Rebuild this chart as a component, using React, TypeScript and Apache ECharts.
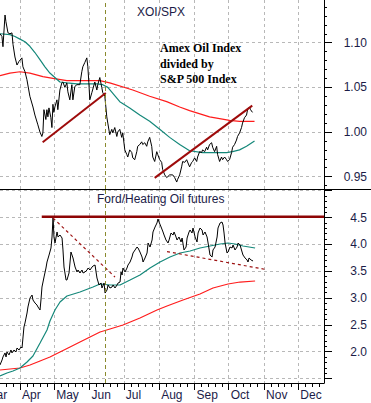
import React, { useEffect, useRef } from "react";
import * as echarts from "echarts";

const DAY_MS = 86400000;
const YEAR = 2009;
const START = new Date(YEAR, 2, 14, 12).getTime(); // left edge of the plot
const SPAN_DAYS = 284; // right edge (price axis)

const MONTH_NAMES = ["Jan", "Feb", "Mar", "Apr", "May", "Jun", "Jul", "Aug", "Sep", "Oct", "Nov", "Dec"];
const LABEL_MONTHS = [3, 4, 5, 6, 7, 8, 9, 10, 11]; // Apr..Dec
const PARTIAL_MONTH = 2; // Mar, cut by the left edge

// ---- XOI / SPX (days after the left edge, ratio) ----
const xoiDay = [0,1.7,2.6,4.4,5.2,7,8.7,10.5,11.4,13.1,14.9,16.6,19.2,20.1,21.9,23.6,26.2,28.9,30.6,33.2,35,36.7,37.6,38.5,40.2,41.1,42,42.9,44.6,45.5,46.4,47.2,48.1,49.9,50.7,52.5,54.2,55.1,56.9,58.6,59.5,61.2,63,63.9,65.6,67.4,70,71.7,72.6,74.4,76.1,77,77.9,78.7,80.5,83.1,84.9,85.7,87.5,89.2,90.1,91.9,93.6,94.5,96.2,98,98.9,100.6,102.4,103.2,105,106.7,107.6,109.4,111.1,112,113.7,115.5,116.4,118.1,119.9,120.7,122.5,124.2,125.1,126.9,128.6,129.5,131.2,133,133.9,135.6,137.4,138.2,140,141.7,142.6,144.4,146.1,147,148.7,151.4,153.1,154.9,155.7,157.5,159.2,160.1,161.9,163.6,166.2,168,168.9,170.6,172.4,173.2,175,176.7,177.6,179.4,181.1,182,183.7,185.5,186.4,188.1,189.9,190.7,192.5,194.2,195.1,196.9,198.6,199.5,201.2,203,203.9,205.6,207.3,208.2,210,211.7,212.6,214.3,216.1,217,218.7,219.6,221.3];
const xoiRatio = [1.110,1.107,1.0955,1.131,1.1235,1.111,1.110,1.111,1.098,1.084,1.075,1.079,1.083,1.073,1.0675,1.0586,1.040,1.028,1.019,1.008,1.000,0.995,0.999,1.025,1.014,1.025,1.017,1.027,1.016,1.005,1.031,1.022,1.028,1.036,1.025,1.047,1.055,1.056,1.050,1.055,1.045,1.036,1.053,1.036,1.051,1.053,1.053,1.0675,1.073,1.078,1.083,1.073,1.055,1.036,1.044,1.056,1.047,1.053,1.061,1.050,1.044,1.040,1.017,1.010,0.997,1.003,0.999,1.005,0.995,1.000,1.003,0.994,0.999,0.980,0.975,0.972,0.980,0.977,0.971,0.969,0.978,0.984,0.986,0.989,0.986,0.988,0.984,0.989,0.994,0.984,0.972,0.967,0.978,0.975,0.969,0.966,0.958,0.952,0.949,0.950,0.952,0.952,0.949,0.944,0.947,0.952,0.961,0.967,0.966,0.969,0.961,0.966,0.967,0.971,0.967,0.972,0.978,0.977,0.980,0.978,0.983,0.980,0.986,0.988,0.983,0.978,0.984,0.975,0.967,0.972,0.969,0.972,0.969,0.967,0.969,0.977,0.983,0.986,0.991,0.995,0.999,1.005,1.010,1.016,1.019,1.025,1.028,1.025,1.022];
const xoiMa50Day = [0,8.7,13.1,17.5,21.9,26.2,30.6,35,39.4,43.7,48.1,52.5,58.6,67.4,76.1,84.9,90.1,94.5,105,113.7,122.5,131.2,140,148.7,157.5,166.2,177.6,189.9,198.6,203.9,210,216.1,223.1];
const xoiMa50 = [1.110,1.109,1.107,1.104,1.101,1.096,1.089,1.081,1.073,1.066,1.061,1.056,1.055,1.054,1.054,1.054,1.053,1.050,1.034,1.027,1.019,1.012,1.003,0.994,0.986,0.979,0.977,0.977,0.977,0.978,0.980,0.984,0.990];
const xoiMa200Day = [0,8.7,17.5,26.2,37.6,46.4,58.6,72.6,87.5,96.2,116.4,131.2,146.1,157.5,166.2,183.7,201.2,210,223.1];
const xoiMa200 = [1.063,1.066,1.0675,1.066,1.062,1.060,1.0575,1.0575,1.0575,1.055,1.047,1.040,1.034,1.028,1.024,1.017,1.013,1.012,1.012];
const xoiTrend1Day = [37.4, 92.7];
const xoiTrend1 = [0.9885, 1.0436];
const xoiTrend2Day = [135.6, 221.1];
const xoiTrend2 = [0.9486, 1.0295];

// ---- Ford / Heating Oil futures ----
const fordDay = [0,1.8,2.6,4.4,5.3,6.1,7.9,9.6,10.5,12.3,14,14.9,16.7,18.4,19.3,20.2,21,21.9,23.7,24.5,26.3,28.1,28.9,30.7,32.4,33.3,35.1,35.9,36.8,38.6,40.3,41.2,43,44.7,45.6,46.5,47.3,48.2,50,50.9,52.6,54.4,55.2,56.1,57.9,58.7,60.5,61.4,62.2,63.1,64,65.8,67.5,68.4,70.1,71.9,72.8,74.5,76.3,77.2,78.9,80.7,81.5,83.3,84.2,85,86.8,88.6,89.4,91.2,92.1,93.8,94.7,96.4,98.2,99.1,100.8,102.6,103.5,105.2,106.1,107,107.8,109.6,111.3,112.2,114,115.7,116.6,118.4,120.1,121,122.7,124.5,125.4,127.1,128.9,129.8,131.5,133.3,134.1,135.9,137.6,138.5,139.4,141.2,142.9,143.8,145.5,147.3,148.2,149.9,151.7,152.6,154.3,155.2,156.9,158.7,159.6,161.3,163.1,164,165.7,166.6,168.3,169.2,171,172.7,173.6,175.3,177.1,178,179.7,181.5,182.4,184.1,185.9,186.7,188.5,190.3,191.1,192.9,194.6,195.5,196.4,197.3,199,199.9,201.6,203.4,204.3,206,207.8,208.7,210.4,212.2,213,214.8,216.6,217.4,218.3,220.1,221.8];
const fordRatio = [1.753,1.846,1.902,1.977,1.902,1.995,1.940,2.032,1.977,2.032,1.995,2.069,2.032,2.088,2.069,2.274,2.460,2.535,2.721,2.833,3.000,3.056,2.963,2.907,2.870,2.833,2.777,2.963,3.205,3.392,3.559,3.671,3.801,3.932,4.137,4.509,4.137,4.025,4.230,4.137,4.174,4.118,3.895,3.578,3.336,3.336,3.466,3.671,3.857,3.801,3.746,3.578,3.485,3.522,3.466,3.522,3.466,3.485,3.522,3.559,3.522,3.578,3.596,3.615,3.485,3.373,3.243,3.280,3.187,3.280,3.093,3.149,3.243,3.187,3.205,3.243,3.187,3.243,3.280,3.298,3.485,3.429,3.559,3.485,3.559,3.615,3.671,3.764,3.839,3.895,3.950,3.932,3.857,3.764,3.671,3.746,3.839,4.025,3.950,4.081,4.230,4.323,4.398,4.472,4.416,4.323,4.230,4.174,4.081,4.025,4.081,4.211,4.174,4.230,4.137,4.081,4.137,4.044,4.118,3.895,3.950,4.118,4.230,4.267,4.211,4.304,4.137,4.044,4.211,4.304,4.267,4.174,4.230,4.137,4.025,3.801,3.764,3.895,3.950,4.137,4.304,4.398,4.416,4.360,4.211,4.025,3.839,3.857,3.950,3.932,3.988,3.895,3.950,4.025,3.988,3.857,3.801,3.746,3.708,3.671,3.746,3.708,3.690];
const fordMa50Day = [0,6.1,11.4,17.5,23.7,28.9,35.1,41.2,43.8,48.2,52.6,58.7,70.1,81.5,87.7,96.4,105.2,114,122.7,131.5,140.3,149,157.8,166.6,175.3,184.1,192.9,199.9,206,213,223.6];
const fordMa50 = [1.547,1.603,1.640,1.696,1.808,1.920,2.162,2.404,2.572,2.777,2.926,3.038,3.112,3.205,3.261,3.243,3.243,3.336,3.429,3.559,3.671,3.764,3.839,3.876,3.932,3.969,4.006,4.025,4.006,3.969,3.932];
const fordMa200Day = [0,8.8,17.5,26.3,35.1,43.8,52.6,61.4,70.1,78.9,87.7,96.4,107.8,122.7,137.6,146.4,160.4,175.3,186.7,199.9,210.4,223.6];
const fordMa200 = [1.659,1.678,1.696,1.752,1.827,1.901,1.994,2.088,2.181,2.274,2.367,2.423,2.497,2.628,2.777,2.851,2.963,3.075,3.187,3.261,3.298,3.317];
const fordResistDay = [36.6, SPAN_DAYS];
const fordResist = [4.515, 4.515];
const fordFall1Day = [46.5, 100.8];
const fordFall1 = [4.49, 3.39];
const fordFall2Day = [146.4, 233.2];
const fordFall2 = [3.866, 3.531];

const markerDay = 92.1; // olive vertical dashed marker (mid June)

// ---- axes ----
const XOI_MIN = 0.9362;
const XOI_MAX = 1.1478;
const XOI_TICKS = [0.95, 1.0, 1.05, 1.1];
const FORD_MIN = 1.417;
const FORD_MAX = 5.031;
const FORD_TICKS = [1.5, 2.0, 2.5, 3.0, 3.5, 4.0, 4.5, 5.0];
const FORD_LABELS = [2.0, 2.5, 3.0, 3.5, 4.0, 4.5];

const TEXT_COLOR = "#1c1c48";
const GRID_COLOR = "#b8b8b8";
const SANS = "'Liberation Sans', Arial, sans-serif";
const SERIF = "'Liberation Serif', 'Times New Roman', serif";

const monthStartDay = (m: number) => (new Date(YEAR, m, 1).getTime() - START) / DAY_MS;

const pairs = (d: number[], v: number[]) => d.map((x, i) => [x, v[i]]);

export default function App() {
  const ref = useRef<HTMLDivElement>(null);

  useEffect(() => {
    if (!ref.current) return;
    const chart = echarts.init(ref.current, null, { renderer: "svg" });

    const monthTicks = LABEL_MONTHS.map(monthStartDay);
    const minorX: number[] = [];
    for (let m = PARTIAL_MONTH; m <= 11; m++) {
      const a = monthStartDay(m);
      const b = monthStartDay(m + 1);
      for (let k = 1; k < 5; k++) minorX.push(a + ((b - a) * k) / 5);
    }
    const xoiMinor: number[] = [];
    for (let i = 94; i <= 114; i++) if (i % 5 !== 0) xoiMinor.push(i / 100);
    const fordMinor: number[] = [];
    for (let i = 15; i <= 50; i++) if (i % 5 !== 0) fordMinor.push(i / 10);

    const dashed = { color: GRID_COLOR, type: [3, 3] as any, width: 1 };
    const monthLabel = (v: number) => MONTH_NAMES[new Date(START + (v + 0.5) * DAY_MS).getMonth()];

    const baseX = {
      type: "value",
      min: 0,
      max: SPAN_DAYS,
    };

    const markLine = {
      silent: true,
      symbol: ["none", "none"],
      label: { show: false },
      lineStyle: { color: "#8a8a2e", type: [4, 3], width: 1 },
      data: [{ xAxis: markerDay }],
    };

    const line = (name: string, data: number[][], color: string, width: number, xi: number, yi: number, extra: any = {}) => ({
      name,
      type: "line",
      data,
      xAxisIndex: xi,
      yAxisIndex: yi,
      symbol: "none",
      showSymbol: false,
      silent: true,
      lineStyle: { color, width, ...(extra.lineStyle || {}) },
      z: extra.z ?? 2,
      ...(extra.markLine ? { markLine: extra.markLine } : {}),
    });

    const option: any = {
      animation: false,
      backgroundColor: "#ffffff",
      grid: [
        { left: 0, top: 0, width: 324, height: 189, containLabel: false, outerBoundsMode: "none" },
        { left: 0, top: 189, width: 324, height: 194, containLabel: false, outerBoundsMode: "none" },
      ],
      xAxis: [
        {
          ...baseX,
          gridIndex: 0,
          axisLine: { show: false },
          axisTick: { show: false, customValues: monthTicks },
          axisLabel: { show: false },
          splitLine: { show: true, lineStyle: dashed },
        },
        {
          ...baseX,
          gridIndex: 1,
          position: "bottom",
          axisLine: { show: true, onZero: false, lineStyle: { color: "#000", width: 1 } },
          axisTick: { show: true, customValues: monthTicks, length: 7, lineStyle: { color: "#000" } },
          axisLabel: {
            show: true,
            customValues: monthTicks,
            formatter: monthLabel,
            align: "left",
            padding: [0, 0, 0, 2],
            margin: 6,
            color: TEXT_COLOR,
            fontFamily: SANS,
            fontSize: 12,
          },
          splitLine: { show: true, lineStyle: dashed },
        },
        {
          ...baseX,
          gridIndex: 1,
          position: "bottom",
          axisLine: { show: false, onZero: false },
          axisTick: { show: true, customValues: minorX, length: 4, lineStyle: { color: "#000" } },
          axisLabel: { show: false },
          splitLine: { show: false },
        },
      ],
      yAxis: [
        {
          type: "value",
          gridIndex: 0,
          position: "right",
          min: XOI_MIN,
          max: XOI_MAX,
          axisLine: { show: true, onZero: false, lineStyle: { color: "#000", width: 1 } },
          axisTick: { show: true, customValues: XOI_TICKS, length: 8, lineStyle: { color: "#000" } },
          axisLabel: {
            show: true,
            customValues: XOI_TICKS,
            formatter: (v: number) => v.toFixed(2),
            align: "right",
            margin: 43,
            color: TEXT_COLOR,
            fontFamily: SANS,
            fontSize: 12,
          },
          splitLine: { show: true, lineStyle: dashed },
        },
        {
          type: "value",
          gridIndex: 0,
          position: "right",
          min: XOI_MIN,
          max: XOI_MAX,
          axisLine: { show: false, onZero: false },
          axisTick: { show: true, customValues: xoiMinor, length: 3, lineStyle: { color: "#000" } },
          axisLabel: { show: false },
          splitLine: { show: false },
        },
        {
          type: "value",
          gridIndex: 1,
          position: "right",
          min: FORD_MIN,
          max: FORD_MAX,
          axisLine: { show: true, onZero: false, lineStyle: { color: "#000", width: 1 } },
          axisTick: { show: true, customValues: FORD_TICKS, length: 8, lineStyle: { color: "#000" } },
          axisLabel: {
            show: true,
            customValues: FORD_LABELS,
            formatter: (v: number) => v.toFixed(1),
            align: "right",
            margin: 43,
            color: TEXT_COLOR,
            fontFamily: SANS,
            fontSize: 12,
          },
          splitLine: { show: true, lineStyle: dashed },
        },
        {
          type: "value",
          gridIndex: 1,
          position: "right",
          min: FORD_MIN,
          max: FORD_MAX,
          axisLine: { show: false, onZero: false },
          axisTick: { show: true, customValues: fordMinor, length: 3, lineStyle: { color: "#000" } },
          axisLabel: { show: false },
          splitLine: { show: false },
        },
      ],
      series: [
        line("XOI/SPX 200d", pairs(xoiMa200Day, xoiMa200), "#ff1c1c", 1.2, 0, 0),
        line("XOI/SPX 50d", pairs(xoiMa50Day, xoiMa50), "#15887a", 1.2, 0, 0),
        line("XOI/SPX", pairs(xoiDay, xoiRatio), "#000000", 1, 0, 0, { z: 3, markLine }),
        line("XOI trend 1", pairs(xoiTrend1Day, xoiTrend1), "#9e0b0b", 2, 0, 0, { z: 4 }),
        line("XOI trend 2", pairs(xoiTrend2Day, xoiTrend2), "#9e0b0b", 2, 0, 0, { z: 4 }),
        line("Ford 200d", pairs(fordMa200Day, fordMa200), "#ff1c1c", 1.2, 1, 2),
        line("Ford 50d", pairs(fordMa50Day, fordMa50), "#15887a", 1.2, 1, 2),
        line("Ford/Heating Oil", pairs(fordDay, fordRatio), "#000000", 1, 1, 2, { z: 3, markLine }),
        line("Ford resistance", pairs(fordResistDay, fordResist), "#8e0404", 2.6, 1, 2, { z: 4 }),
        line("Ford fall 1", pairs(fordFall1Day, fordFall1), "#9e1414", 1.2, 1, 2, { z: 4, lineStyle: { type: [3, 3] } }),
        line("Ford fall 2", pairs(fordFall2Day, fordFall2), "#9e1414", 1.2, 1, 2, { z: 4, lineStyle: { type: [3, 3] } }),
      ],
      graphic: [
        {
          type: "line",
          shape: { x1: 0, y1: 189.5, x2: 371, y2: 189.5 },
          style: { stroke: "#000", lineWidth: 1 },
          z: 10,
        },
        {
          type: "text",
          x: 161,
          y: 12,
          style: { text: "XOI/SPX", fill: TEXT_COLOR, font: `12px ${SANS}`, textAlign: "center", textVerticalAlign: "middle" },
          z: 10,
        },
        {
          type: "text",
          x: 160,
          y: 40.5,
          style: {
            text: "Amex Oil Index\ndivided by\nS&P 500 Index",
            fill: "#000",
            font: `bold 12px ${SERIF}`,
            lineHeight: 15.5,
            textAlign: "left",
            textVerticalAlign: "top",
          },
          z: 10,
        },
        {
          type: "text",
          x: 97,
          y: 199,
          style: { text: "Ford/Heating Oil futures", fill: TEXT_COLOR, font: `12px ${SANS}`, textAlign: "left", textVerticalAlign: "middle" },
          z: 10,
        },
      ],
    };

    chart.setOption(option);

    // the March label sits partly outside the left edge; place it via the axis scale
    const marX = chart.convertToPixel({ xAxisIndex: 1 } as any, monthStartDay(PARTIAL_MONTH)) as unknown as number;
    const labelY = chart.convertToPixel({ yAxisIndex: 2 } as any, FORD_MIN) as unknown as number;
    chart.setOption({
      graphic: [
        {
          type: "text",
          id: "mar",
          x: marX + 2,
          y: labelY + 6,
          style: { text: MONTH_NAMES[PARTIAL_MONTH], fill: TEXT_COLOR, font: `12px ${SANS}`, textAlign: "left", textVerticalAlign: "top" },
          z: 10,
        },
      ],
    });

    return () => chart.dispose();
  }, []);

  return (
    <div
      ref={ref}
      style={{ position: "absolute", left: 0, top: 0, width: 371, height: 403, background: "#fff" }}
    />
  );
}
